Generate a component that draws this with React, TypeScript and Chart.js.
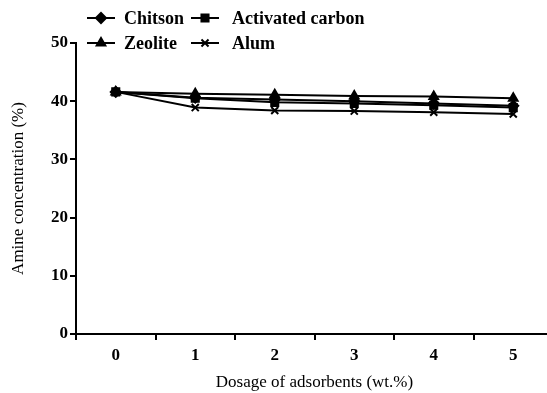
import React, { useEffect, useRef } from "react";
import { Chart, registerables } from "chart.js";
import { drawPoint } from "chart.js/helpers";

Chart.register(...registerables);

const categories = ["0", "1", "2", "3", "4", "5"];
const chitson = [41.6, 40.6, 40.3, 40.0, 39.6, 39.2];
const activatedCarbon = [41.6, 40.5, 39.8, 39.6, 39.3, 38.9];
const zeolite = [41.6, 41.3, 41.1, 40.9, 40.8, 40.5];
const alum = [41.6, 38.9, 38.4, 38.3, 38.1, 37.8];
const yTicks = [0, 10, 20, 30, 40, 50];

const FONT = "'Liberation Serif', 'Times New Roman', serif";

const legendItems = [
  { label: "Chitson", style: "rectRot", x: 87, y: 18, tx: 124 },
  { label: "Activated carbon", style: "rect", x: 191, y: 18, tx: 232 },
  { label: "Zeolite", style: "triangle", x: 87, y: 43, tx: 124 },
  { label: "Alum", style: "crossRot", x: 191, y: 43, tx: 232 },
];

const legendPlugin = {
  id: "customLegend",
  afterDraw(chart: any) {
    const ctx = chart.ctx;
    ctx.save();
    for (const it of legendItems) {
      ctx.strokeStyle = "#000";
      ctx.fillStyle = "#000";
      ctx.lineWidth = 2;
      ctx.beginPath();
      ctx.moveTo(it.x, it.y);
      ctx.lineTo(it.x + 28, it.y);
      ctx.stroke();
      drawPoint(ctx, { pointStyle: it.style, radius: 5, borderWidth: 2, rotation: 0 } as any, it.x + 14, it.y);
      ctx.font = `bold 18px ${FONT}`;
      ctx.textBaseline = "middle";
      ctx.textAlign = "left";
      ctx.fillStyle = "#000";
      ctx.fillText(it.label, it.tx, it.y + 1);
    }
    ctx.restore();
  },
};

function ds(label: string, data: number[], style: string) {
  return {
    label,
    data,
    borderColor: "#000",
    backgroundColor: "#000",
    borderWidth: 2,
    pointStyle: style,
    pointRadius: 5,
    pointBorderWidth: 2,
    pointBackgroundColor: "#000",
    pointBorderColor: "#000",
    tension: 0,
  };
}

export default function App() {
  const ref = useRef<HTMLCanvasElement>(null);
  useEffect(() => {
    const chart = new Chart(ref.current!, {
      type: "line",
      data: {
        labels: categories,
        datasets: [
          ds("Chitson", chitson, "rectRot"),
          ds("Activated carbon", activatedCarbon, "rect"),
          ds("Zeolite", zeolite, "triangle"),
          ds("Alum", alum, "crossRot"),
        ],
      },
      options: {
        animation: false,
        responsive: false,
        devicePixelRatio: 1,
        layout: { padding: { top: 43, right: 4, left: 0, bottom: 0 } },
        plugins: { legend: { display: false }, tooltip: { enabled: false } },
        scales: {
          x: {
            type: "category",
            offset: true,
            border: { color: "#000", width: 2 },
            grid: {
              offset: true,
              drawOnChartArea: false,
              drawTicks: true,
              tickLength: 6,
              color: "#000",
              lineWidth: 2,
            },
            ticks: {
              color: "#000",
              font: { family: FONT, size: 17, weight: "bold" },
              padding: 5,
              maxRotation: 0,
            },
            title: {
              display: true,
              text: "Dosage of adsorbents (wt.%)",
              color: "#000",
              font: { family: FONT, size: 17 },
              padding: { top: 4, bottom: 0 },
            },
            afterFit(scale: any) {
              scale.height = 59;
            },
          },
          y: {
            min: 0,
            max: 50,
            afterBuildTicks(scale: any) {
              scale.ticks = yTicks.map((v) => ({ value: v }));
            },
            border: { color: "#000", width: 2 },
            grid: {
              drawOnChartArea: false,
              drawTicks: true,
              tickLength: 6,
              color: "#000",
              lineWidth: 2,
            },
            ticks: {
              color: "#000",
              font: { family: FONT, size: 17, weight: "bold" },
              padding: 2,
            },
            title: {
              display: true,
              text: "Amine concentration (%)",
              color: "#000",
              font: { family: FONT, size: 17 },
              padding: { top: 8, bottom: 4 },
            },
            afterFit(scale: any) {
              scale.width = 76;
            },
          },
        },
      },
      plugins: [legendPlugin],
    } as any);
    return () => chart.destroy();
  }, []);
  return (
    <div
      style={{
        position: "absolute",
        left: 0,
        top: 0,
        width: 547,
        height: 393,
        overflow: "hidden",
        background: "#fff",
      }}
    >
      <canvas ref={ref} width={560} height={393} style={{ display: "block" }} />
    </div>
  );
}
